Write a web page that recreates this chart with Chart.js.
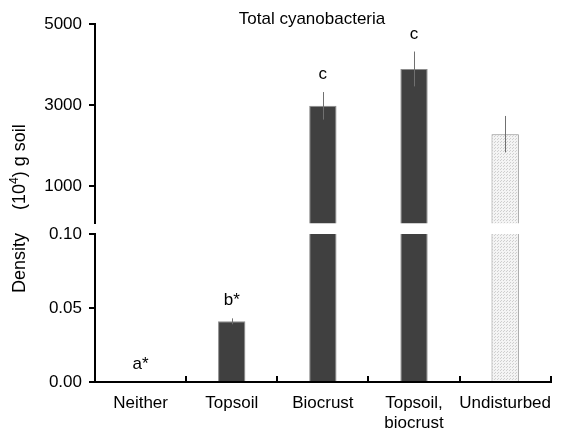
<!DOCTYPE html>
<html>
<head>
<meta charset="utf-8">
<script src="https://cdn.jsdelivr.net/npm/chart.js@4/dist/chart.umd.min.js"></script>
<style>
  html, body { margin: 0; padding: 0; background: #fff; }
  #wrap { width: 568px; height: 431px; }
</style>
</head>
<body>
<div id="wrap"><canvas id="graphCanvas"></canvas></div>
<script>
// values
var categories = ['Neither', 'Topsoil', 'Biocrust', ['Topsoil,', 'biocrust'], 'Undisturbed'];
var density = [0, 0.041, 2980, 3890, 2280];
var densityErr = [0, 0.002, 340, 430, 450];
var letters = ['a*', 'b*', 'c', 'c', ''];
var upperTicks = [1000, 3000, 5000];
var lowerTicks = [0, 0.05, 0.10];

Chart.defaults.font.family = '"Liberation Sans", Arial, sans-serif';
Chart.defaults.font.size = 17;
Chart.defaults.color = '#000';

// light stippled fill for the undisturbed bar
function stipple() {
    var c = document.createElement('canvas');
    c.width = 3; c.height = 3;
    var g = c.getContext('2d');
    g.fillStyle = '#f4f4f4';
    g.fillRect(0, 0, 3, 3);
    g.fillStyle = '#cfcfcf';
    g.fillRect(0, 0, 1, 1);
    g.fillRect(2, 1, 1, 1);
    return g.createPattern(c, 'repeat');
}

var fills = ['#404040', '#404040', '#404040', '#404040', stipple()];
var borders = ['#8c8c8c', '#8c8c8c', '#8c8c8c', '#8c8c8c', '#8c8c8c'];

// each dataset only shows inside its own panel of the broken axis
var panelClip = {
    id: 'panelClip',
    beforeDatasetDraw: function (chart, args) {
        var scale = chart.scales[args.meta.yAxisID];
        var area = chart.chartArea;
        var ctx = chart.ctx;
        ctx.save();
        ctx.beginPath();
        ctx.rect(area.left, scale.top, area.right - area.left, scale.bottom - scale.top);
        ctx.clip();
    },
    afterDatasetDraw: function (chart, args) {
        var scale = chart.scales[args.meta.yAxisID];
        var ctx = chart.ctx;
        ctx.strokeStyle = '#707070';
        ctx.lineWidth = 1;
        args.meta.data.forEach(function (bar, i) {
            if (!densityErr[i]) return;
            var x = Math.round(bar.x) + 0.5;
            ctx.beginPath();
            ctx.moveTo(x, scale.getPixelForValue(density[i] + densityErr[i]));
            ctx.lineTo(x, scale.getPixelForValue(density[i] - densityErr[i]));
            ctx.stroke();
        });
        ctx.restore();
    }
};

var annotations = {
    id: 'annotations',
    afterDraw: function (chart) {
        var ctx = chart.ctx;
        var lower = chart.scales.yLower;
        var upper = chart.scales.yUpper;
        var meta = chart.getDatasetMeta(0);
        ctx.save();
        ctx.fillStyle = '#000';
        ctx.font = '17px "Liberation Sans", Arial, sans-serif';
        ctx.textAlign = 'center';
        ctx.textBaseline = 'alphabetic';
        meta.data.forEach(function (bar, i) {
            if (!letters[i]) return;
            var scale = density[i] > lower.max ? upper : lower;
            var y = scale.getPixelForValue(density[i] + densityErr[i]) - 13;
            ctx.fillText(letters[i], bar.x, y);
        });

        // title
        ctx.fillText('Total cyanobacteria', 312, 24);

        // y axis title, rotated
        ctx.translate(25, 293);
        ctx.rotate(-Math.PI / 2);
        ctx.textAlign = 'left';
        ctx.font = '18px "Liberation Sans", Arial, sans-serif';
        ctx.fillText('Density', 0, 0);
        var u = 83;
        ctx.fillText('(10', u, 0);
        u += ctx.measureText('(10').width;
        ctx.font = '12px "Liberation Sans", Arial, sans-serif';
        ctx.fillText('4', u, -7);
        u += ctx.measureText('4').width;
        ctx.font = '18px "Liberation Sans", Arial, sans-serif';
        ctx.fillText(') g soil', u, 0);
        ctx.restore();
    }
};

var barStyle = {
    backgroundColor: fills,
    borderColor: borders,
    borderWidth: 1,
    barPercentage: 0.3,
    categoryPercentage: 1,
    grouped: false,
    clip: false
};

var chartdata = {
    labels: categories,
    datasets: [
        Object.assign({ label: 'lower', data: density, yAxisID: 'yLower' }, barStyle),
        Object.assign({ label: 'upper', data: density, yAxisID: 'yUpper' }, barStyle)
    ]
};

var graphTarget = document.getElementById('graphCanvas');

var barGraph = new Chart(graphTarget, {
    type: 'bar',
    data: chartdata,
    options: {
        responsive: true,
        maintainAspectRatio: false,
        animation: false,
        layout: { padding: { top: 24, left: 0, right: 0, bottom: 0 } },
        plugins: { legend: { display: false }, tooltip: { enabled: false }, title: { display: false } },
        scales: {
            x: {
                grid: { display: true, drawOnChartArea: false, offset: true, tickLength: -6, color: '#000', lineWidth: 2 },
                border: { display: true, color: '#000', width: 2 },
                ticks: { padding: 17, maxRotation: 0, autoSkip: false },
                afterFit: function (scale) { scale.height = 49; }
            },
            yLower: {
                position: 'left',
                stack: 'density',
                stackWeight: 148,
                min: 0,
                max: 0.10,
                grid: { display: true, drawOnChartArea: false, tickLength: 6, color: '#000', lineWidth: 2 },
                border: { display: true, color: '#000', width: 2 },
                ticks: { padding: 7, callback: function (v) { return v.toFixed(2); } },
                afterBuildTicks: function (scale) { scale.ticks = lowerTicks.map(function (v) { return { value: v }; }); },
                afterFit: function (scale) { scale.width = 95; }
            },
            yGap: {
                position: 'left',
                stack: 'density',
                stackWeight: 10.7,
                min: 0,
                max: 1,
                grid: { display: false },
                border: { display: false },
                ticks: { display: false },
                afterFit: function (scale) { scale.width = 95; }
            },
            yUpper: {
                position: 'left',
                stack: 'density',
                stackWeight: 199.3,
                min: 80,
                max: 5000,
                grid: { display: true, drawOnChartArea: false, tickLength: 6, color: '#000', lineWidth: 2 },
                border: { display: true, color: '#000', width: 2 },
                ticks: { padding: 7, callback: function (v) { return String(v); } },
                afterBuildTicks: function (scale) { scale.ticks = upperTicks.map(function (v) { return { value: v }; }); },
                afterFit: function (scale) { scale.width = 95; }
            }
        }
    },
    plugins: [panelClip, annotations]
});
</script>
</body>
</html>
